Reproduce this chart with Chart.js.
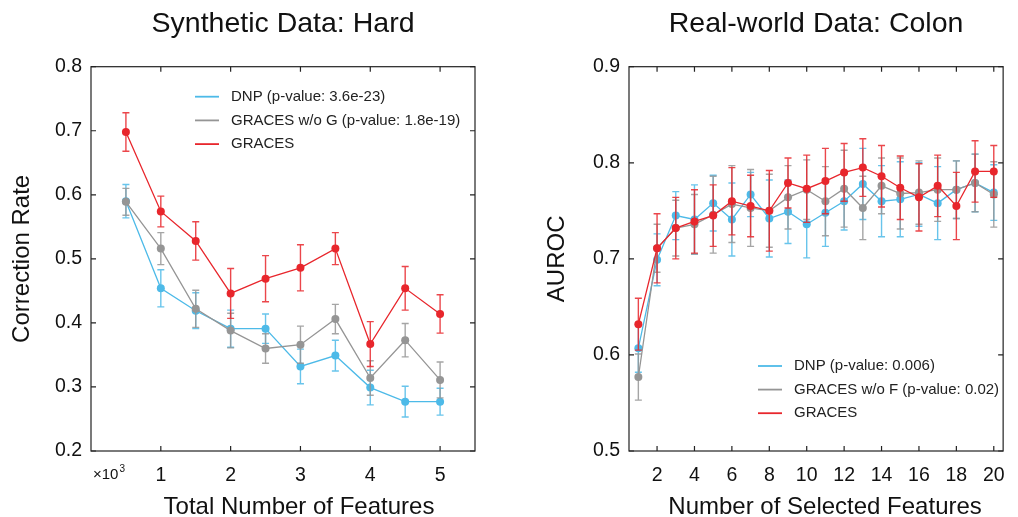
<!DOCTYPE html>
<html>
<head>
<meta charset="utf-8">
<script src="https://cdn.jsdelivr.net/npm/chart.js@4.4.1/dist/chart.umd.min.js"></script>
<style>
  body { margin: 0; background: #fff; }
  .panel { position: absolute; top: 0; width: 509px; height: 517px; }
</style>
</head>
<body>
<div class="panel" style="left:0"><canvas id="synthChart" width="509" height="517"></canvas></div>
<div class="panel" style="left:509px"><canvas id="colonChart" width="509" height="517"></canvas></div>
<script>
// Synthetic data (x in thousands of features)
const synthFeatures = [0.5, 1, 1.5, 2, 2.5, 3, 3.5, 4, 4.5, 5];
const synthDnp = [0.590, 0.454, 0.419, 0.391, 0.391, 0.332, 0.349, 0.299, 0.277, 0.277];
const synthDnpErr = [0.026, 0.029, 0.028, 0.029, 0.023, 0.027, 0.024, 0.027, 0.024, 0.021];
const synthNoG = [0.589, 0.516, 0.422, 0.388, 0.360, 0.366, 0.406, 0.314, 0.373, 0.311];
const synthNoGErr = [0.021, 0.025, 0.029, 0.027, 0.023, 0.029, 0.023, 0.027, 0.026, 0.028];
const synthGraces = [0.698, 0.574, 0.528, 0.446, 0.469, 0.486, 0.516, 0.367, 0.454, 0.414];
const synthGracesErr = [0.030, 0.024, 0.030, 0.039, 0.036, 0.036, 0.025, 0.035, 0.034, 0.030];
const synthXTicks = [1, 2, 3, 4, 5];
const synthYTicks = [0.2, 0.3, 0.4, 0.5, 0.6, 0.7, 0.8];

// Colon data
const colonFeatures = [1, 2, 3, 4, 5, 6, 7, 8, 9, 10, 11, 12, 13, 14, 15, 16, 17, 18, 19, 20];
const colonDnp = [0.607, 0.699, 0.745, 0.741, 0.758, 0.741, 0.767, 0.742, 0.749, 0.736, 0.748, 0.760, 0.778, 0.760, 0.762, 0.767, 0.758, 0.772, 0.779, 0.769];
const colonDnpErr = [0.025, 0.027, 0.025, 0.036, 0.029, 0.038, 0.023, 0.040, 0.033, 0.035, 0.035, 0.030, 0.037, 0.037, 0.039, 0.033, 0.038, 0.030, 0.030, 0.029];
const colonNoF = [0.577, 0.711, 0.732, 0.736, 0.746, 0.757, 0.753, 0.750, 0.764, 0.772, 0.760, 0.773, 0.753, 0.776, 0.768, 0.769, 0.772, 0.772, 0.779, 0.767];
const colonNoFErr = [0.024, 0.025, 0.029, 0.031, 0.040, 0.040, 0.040, 0.038, 0.033, 0.031, 0.036, 0.040, 0.033, 0.029, 0.037, 0.033, 0.033, 0.030, 0.030, 0.034];
const colonGraces = [0.632, 0.711, 0.732, 0.739, 0.745, 0.760, 0.755, 0.750, 0.779, 0.773, 0.781, 0.790, 0.795, 0.786, 0.774, 0.764, 0.776, 0.755, 0.791, 0.791];
const colonGracesErr = [0.027, 0.036, 0.032, 0.033, 0.032, 0.035, 0.032, 0.042, 0.026, 0.035, 0.034, 0.030, 0.030, 0.032, 0.033, 0.035, 0.032, 0.035, 0.032, 0.027];
const colonXTicks = [2, 4, 6, 8, 10, 12, 14, 16, 18, 20];
const colonYTicks = [0.5, 0.6, 0.7, 0.8, 0.9];

const FONT = "'Liberation Sans', Arial, Helvetica, sans-serif";
const BLUE = '#4dbae8';
const GRAY = '#959595';
const RED = '#e8262c';

Chart.defaults.font.family = FONT;
Chart.defaults.color = '#111';

// error bars, drawn just before each dataset so the points sit on top
const errorBars = {
    id: 'errorBars',
    beforeDatasetDraw(chart, args) {
        const ds = chart.data.datasets[args.index];
        if (!ds.errors) return;
        const y = chart.scales.y;
        const c = chart.ctx;
        c.save();
        c.strokeStyle = ds.borderColor;
        c.globalAlpha = 0.85;
        c.lineWidth = 1.4;
        c.beginPath();
        args.meta.data.forEach((pt, i) => {
            const v = ds.data[i].y;
            const top = y.getPixelForValue(v + ds.errors[i]);
            const bot = y.getPixelForValue(v - ds.errors[i]);
            c.moveTo(pt.x, top); c.lineTo(pt.x, bot);
            c.moveTo(pt.x - 3.5, top); c.lineTo(pt.x + 3.5, top);
            c.moveTo(pt.x - 3.5, bot); c.lineTo(pt.x + 3.5, bot);
        });
        c.stroke();
        c.restore();
    }
};

// box around the plot with inward tick marks on all sides
const frame = {
    id: 'frame',
    beforeDatasetsDraw(chart) {
        const { ctx: c, chartArea: a, scales: { x, y } } = chart;
        c.save();
        c.strokeStyle = '#222';
        c.lineWidth = 1.2;
        c.strokeRect(a.left, a.top, a.right - a.left, a.bottom - a.top);
        c.beginPath();
        x.ticks.forEach(t => {
            const p = x.getPixelForValue(t.value);
            c.moveTo(p, a.bottom); c.lineTo(p, a.bottom - 5);
            c.moveTo(p, a.top); c.lineTo(p, a.top + 5);
        });
        y.ticks.forEach(t => {
            const p = y.getPixelForValue(t.value);
            c.moveTo(a.left, p); c.lineTo(a.left + 5, p);
            c.moveTo(a.right, p); c.lineTo(a.right - 5, p);
        });
        c.stroke();
        c.restore();
    }
};

// legend with plain line samples, placed inside the plot
const lineLegend = {
    id: 'lineLegend',
    afterDraw(chart, args, opts) {
        const { ctx: c, chartArea: a } = chart;
        c.save();
        c.font = `15px ${FONT}`;
        c.textBaseline = 'middle';
        c.fillStyle = '#222';
        chart.data.datasets.forEach((ds, i) => {
            const xx = a.left + opts.x;
            const yy = a.top + opts.y + i * opts.gap;
            c.strokeStyle = ds.borderColor;
            c.lineWidth = 1.8;
            c.beginPath(); c.moveTo(xx, yy); c.lineTo(xx + 24, yy); c.stroke();
            c.fillText(ds.label, xx + 36, yy);
        });
        c.restore();
    }
};

// x axis caption (and the x10^3 multiplier on the left plot)
const axisCaption = {
    id: 'axisCaption',
    afterDraw(chart, args, opts) {
        const { ctx: c, chartArea: a } = chart;
        c.save();
        c.fillStyle = '#111';
        c.textAlign = 'center';
        c.textBaseline = 'alphabetic';
        c.font = `24px ${FONT}`;
        c.fillText(opts.text, (a.left + a.right) / 2 + opts.dx, 513.5);
        if (opts.multiplier) {
            c.textAlign = 'left';
            c.font = `15px ${FONT}`;
            c.fillText('×10', a.left + 2, 479);
            const w = c.measureText('×10').width;
            c.font = `10px ${FONT}`;
            c.fillText(opts.multiplier, a.left + 3 + w, 472);
        }
        c.restore();
    }
};

function series(label, xs, ys, errs, color, order) {
    return {
        label: label,
        data: xs.map((x, i) => ({ x: x, y: ys[i] })),
        errors: errs,
        borderColor: color,
        backgroundColor: color,
        pointBackgroundColor: color,
        pointBorderWidth: 0,
        pointRadius: 4,
        borderWidth: 1.3,
        tension: 0,
        order: order
    };
}

function axisTicks(list) {
    return s => { s.ticks = list.map(v => ({ value: v })); };
}

function buildOptions(o) {
    return {
        responsive: false,
        animation: false,
        layout: { padding: { left: 0, right: o.padRight, top: 0, bottom: 0 } },
        plugins: {
            legend: { display: false },
            tooltip: { enabled: false },
            title: {
                display: true,
                text: o.title,
                fullSize: false,
                color: '#111',
                font: { size: 28.5, weight: 'normal' },
                padding: { top: 7, bottom: 25.5 }
            },
            lineLegend: o.legend,
            axisCaption: o.caption
        },
        scales: {
            x: {
                type: 'linear',
                min: o.xMin, max: o.xMax,
                afterBuildTicks: axisTicks(o.xTicks),
                afterFit: s => { s.height = 66; },
                grid: { display: false, drawTicks: false },
                border: { display: false },
                ticks: { font: { size: 19.5 }, color: '#111', padding: 13, maxRotation: 0, autoSkip: false, callback: v => String(v) }
            },
            y: {
                min: o.yMin, max: o.yMax,
                afterBuildTicks: axisTicks(o.yTicks),
                afterFit: s => { s.width = o.yWidth; },
                grid: { display: false, drawTicks: false },
                border: { display: false },
                ticks: { font: { size: 19.5 }, color: '#111', padding: 9, callback: v => v.toFixed(1) },
                title: { display: true, text: o.yTitle, color: '#111', font: { size: 24 }, padding: { top: o.yTitlePad, bottom: 0 } }
            }
        }
    };
}

new Chart(document.getElementById('synthChart'), {
    type: 'line',
    data: {
        datasets: [
            series('DNP (p-value: 3.6e-23)', synthFeatures, synthDnp, synthDnpErr, BLUE, 3),
            series('GRACES w/o G (p-value: 1.8e-19)', synthFeatures, synthNoG, synthNoGErr, GRAY, 2),
            series('GRACES', synthFeatures, synthGraces, synthGracesErr, RED, 1)
        ]
    },
    options: buildOptions({
        title: 'Synthetic Data: Hard',
        padRight: 34, yWidth: 91, yTitlePad: 7.6,
        xMin: 0, xMax: 5.5, xTicks: synthXTicks,
        yMin: 0.2, yMax: 0.8, yTicks: synthYTicks,
        yTitle: 'Correction Rate',
        legend: { x: 104, y: 30, gap: 23.7 },
        caption: { text: 'Total Number of Features', dx: 16, multiplier: '3' }
    }),
    plugins: [frame, errorBars, lineLegend, axisCaption]
});

new Chart(document.getElementById('colonChart'), {
    type: 'line',
    data: {
        datasets: [
            series('DNP (p-value: 0.006)', colonFeatures, colonDnp, colonDnpErr, BLUE, 3),
            series('GRACES w/o F (p-value: 0.02)', colonFeatures, colonNoF, colonNoFErr, GRAY, 2),
            series('GRACES', colonFeatures, colonGraces, colonGracesErr, RED, 1)
        ]
    },
    options: buildOptions({
        title: 'Real-world Data: Colon',
        padRight: 5, yWidth: 120, yTitlePad: 33.6,
        xMin: 0.5, xMax: 20.5, xTicks: colonXTicks,
        yMin: 0.5, yMax: 0.9, yTicks: colonYTicks,
        yTitle: 'AUROC',
        legend: { x: 129, y: 299.3, gap: 23.6 },
        caption: { text: 'Number of Selected Features', dx: 9 }
    }),
    plugins: [frame, errorBars, lineLegend, axisCaption]
});
</script>
</body>
</html>
